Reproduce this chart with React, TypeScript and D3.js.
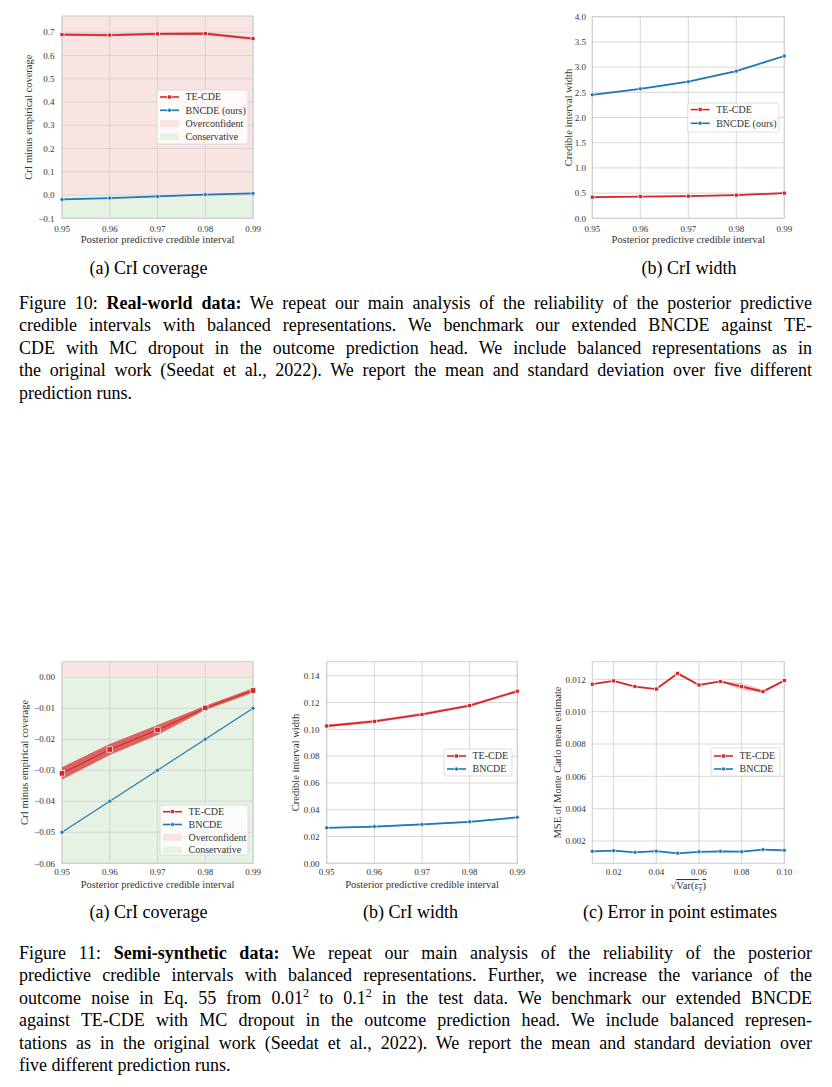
import React, { useLayoutEffect, useRef } from 'react';
import * as d3 from 'd3';

// ---------------- data ----------------
const ciLevels = [0.95, 0.96, 0.97, 0.98, 0.99];
const ciTicks = [0.95, 0.96, 0.97, 0.98, 0.99];

// Figure 10 (real-world data)
const f10CovTe = [0.690, 0.688, 0.693, 0.694, 0.673];
const f10CovTeSd = [0.006, 0.006, 0.006, 0.007, 0.006];
const f10CovBn = [-0.019, -0.013, -0.006, 0.002, 0.007];
const f10CovBnSd = [0.001, 0.001, 0.001, 0.001, 0.001];
const f10CovTicks = [-0.1, 0, 0.1, 0.2, 0.3, 0.4, 0.5, 0.6, 0.7];

const f10WidTe = [0.42, 0.43, 0.44, 0.46, 0.50];
const f10WidTeSd = [0.012, 0.012, 0.012, 0.012, 0.012];
const f10WidBn = [2.45, 2.57, 2.71, 2.92, 3.22];
const f10WidBnSd = [0.012, 0.012, 0.012, 0.012, 0.012];
const f10WidTicks = [0, 0.5, 1.0, 1.5, 2.0, 2.5, 3.0, 3.5, 4.0];

// Figure 11 (semi-synthetic data)
const f11CovTe = [-0.031, -0.0233, -0.017, -0.0099, -0.0043];
const f11CovTeSd = [0.002, 0.0018, 0.0016, 0.0007, 0.0007];
const f11CovBn = [-0.05, -0.04, -0.03, -0.02, -0.01];
const f11CovBnSd = [0, 0, 0, 0, 0];
const f11CovTicks = [-0.06, -0.05, -0.04, -0.03, -0.02, -0.01, 0.0];

const f11WidTe = [0.1025, 0.106, 0.1112, 0.1177, 0.1285];
const f11WidTeSd = [0.0011, 0.0011, 0.0011, 0.0011, 0.0011];
const f11WidBn = [0.0265, 0.0274, 0.029, 0.031, 0.0343];
const f11WidBnSd = [0.0006, 0.0006, 0.0006, 0.0006, 0.0006];
const f11WidTicks = [0, 0.02, 0.04, 0.06, 0.08, 0.1, 0.12, 0.14];

const noiseLevels = [0.01, 0.02, 0.03, 0.04, 0.05, 0.06, 0.07, 0.08, 0.09, 0.10];
const noiseTicks = [0.02, 0.04, 0.06, 0.08, 0.10];
const mseTe = [0.01170, 0.01190, 0.01155, 0.01140, 0.01237, 0.01165, 0.01187, 0.01155, 0.01125, 0.01192];
const mseTeSd = [0.00004, 0.00003, 0.00003, 0.00003, 0.00008, 0.00003, 0.00004, 0.00020, 0.00010, 0.00004];
const mseBn = [0.00136, 0.00140, 0.00130, 0.00137, 0.00124, 0.00133, 0.00136, 0.00134, 0.00147, 0.00142];
const mseBnSd = [0.00002, 0.00002, 0.00002, 0.00002, 0.00002, 0.00002, 0.00004, 0.00004, 0.00003, 0.00002];
const mseTicks = [0.002, 0.004, 0.006, 0.008, 0.010, 0.012];

const nameTe = 'TE-CDE';
const nameBnOurs = 'BNCDE (ours)';
const nameBn = 'BNCDE';
const nameOver = 'Overconfident';
const nameCons = 'Conservative';

// ---------------- style ----------------
const RED = '#d62728';
const BLUE = '#1f77b4';
const PINK = '#f9e4e4';
const GREEN = '#e6f2e3';
const GRID = '#d2d2d2';
const SPINE = '#cccccc';
const TXT = '#333333';
const SERIF = '"Liberation Serif", "Times New Roman", serif';

const fmtMinus = (f: (n: number) => string) => (v: number) => f(v).replace('-', '\u2212');

type Series = {
  color: string;
  marker: 'square' | 'circle';
  xs: number[];
  values: number[];
  sd: number[];
  bandOpacity: number;
  lw: number;
  msize: number;
};

type LegendItem = { label: string; kind: 'square' | 'circle' | 'patch'; color: string };

type PanelProps = {
  left: number; top: number; right: number; bottom: number;
  xDomain: [number, number]; yDomain: [number, number];
  xTicks: number[]; yTicks: number[];
  xFmt: (n: number) => string; yFmt: (n: number) => string;
  series: Series[];
  regions?: boolean;
  yLabel: string; yLabelX: number; yTickRight: number;
  xLabel: React.ReactNode; xTickY: number; xLabelY: number;
  legend: { x: number; y: number; w: number; h: number; rows: number[]; items: LegendItem[] };
};

function Marker({ kind, x, y, color, size }: { kind: 'square' | 'circle'; x: number; y: number; color: string; size: number }) {
  if (kind === 'square')
    return <rect x={x - size / 2} y={y - size / 2} width={size} height={size} fill={color} stroke="#fff" strokeWidth={0.7} />;
  return <circle cx={x} cy={y} r={size / 2} fill={color} stroke="#fff" strokeWidth={0.6} />;
}

function Panel(p: PanelProps) {
  const x = d3.scaleLinear().domain(p.xDomain).range([p.left, p.right]);
  const y = d3.scaleLinear().domain(p.yDomain).range([p.bottom, p.top]);
  const line = d3.line<[number, number]>().x(d => x(d[0])).y(d => y(d[1]));
  const area = d3.area<[number, number, number]>().x(d => x(d[0])).y0(d => y(d[1])).y1(d => y(d[2]));
  const lg = p.legend;
  return (
    <g>
      {p.regions && (
        <g>
          <rect x={p.left} y={p.top} width={p.right - p.left} height={y(0) - p.top} fill={PINK} />
          <rect x={p.left} y={y(0)} width={p.right - p.left} height={p.bottom - y(0)} fill={GREEN} />
        </g>
      )}
      {p.xTicks.map(t => (
        <line key={'gx' + t} x1={x(t)} x2={x(t)} y1={p.top} y2={p.bottom} stroke={GRID} strokeWidth={0.9} />
      ))}
      {p.yTicks.map(t => (
        <line key={'gy' + t} x1={p.left} x2={p.right} y1={y(t)} y2={y(t)} stroke={GRID} strokeWidth={0.9} />
      ))}
      <rect x={p.left} y={p.top} width={p.right - p.left} height={p.bottom - p.top} fill="none" stroke={SPINE} strokeWidth={1} />
      {p.series.map((s, i) => {
        const band = s.xs.map((xv, j) => [xv, s.values[j] - s.sd[j], s.values[j] + s.sd[j]] as [number, number, number]);
        const pts = s.xs.map((xv, j) => [xv, s.values[j]] as [number, number]);
        return (
          <g key={i}>
            <path d={area(band) || ''} fill={s.color} fillOpacity={s.bandOpacity} stroke="none" />
            <path d={line(pts) || ''} fill="none" stroke={s.color} strokeWidth={s.lw} />
            {pts.map((d, j) => (
              <Marker key={j} kind={s.marker} x={x(d[0])} y={y(d[1])} color={s.color} size={s.msize} />
            ))}
          </g>
        );
      })}
      {p.yTicks.map(t => (
        <text key={'ly' + t} x={p.yTickRight} y={y(t) + 3.2} textAnchor="end" fontFamily={SERIF} fontSize={9} fill={TXT}>
          {p.yFmt(t)}
        </text>
      ))}
      {p.xTicks.map(t => (
        <text key={'lx' + t} x={x(t)} y={p.xTickY} textAnchor="middle" fontFamily={SERIF} fontSize={9} fill={TXT}>
          {p.xFmt(t)}
        </text>
      ))}
      <text x={(p.left + p.right) / 2} y={p.xLabelY} textAnchor="middle" fontFamily={SERIF} fontSize={10.5} fill={TXT}>
        {p.xLabel}
      </text>
      <text
        transform={`translate(${p.yLabelX},${(p.top + p.bottom) / 2}) rotate(-90)`}
        textAnchor="middle" dominantBaseline="central" fontFamily={SERIF} fontSize={10.5} fill={TXT}
      >
        {p.yLabel}
      </text>
      <g>
        <rect x={lg.x} y={lg.y} width={lg.w} height={lg.h} rx={2} fill="#fff" fillOpacity={0.8} stroke="#d6d6d6" strokeWidth={0.8} />
        {lg.items.map((it, i) => {
          const cy = lg.rows[i];
          return (
            <g key={i}>
              {it.kind === 'patch' ? (
                <rect x={lg.x + 3} y={cy - 3.5} width={19} height={7} fill={it.color} />
              ) : (
                <g>
                  <line x1={lg.x + 3} x2={lg.x + 22} y1={cy} y2={cy} stroke={it.color} strokeWidth={1.6} />
                  <Marker kind={it.kind} x={lg.x + 12.5} y={cy} color={it.color} size={4} />
                </g>
              )}
              <text x={lg.x + 28.5} y={cy + 3.3} fontFamily={SERIF} fontSize={10} fill={TXT}>{it.label}</text>
            </g>
          );
        })}
      </g>
    </g>
  );
}

function JLine({ x, y, width, justify = true, children }: { x: number; y: number; width: number; justify?: boolean; children: React.ReactNode }) {
  const ref = useRef<SVGTextElement>(null);
  useLayoutEffect(() => {
    const el = ref.current;
    if (!el || !justify) return;
    el.style.wordSpacing = '0px';
    const natural = el.getComputedTextLength();
    const spaces = ((el.textContent || '').match(/ /g) || []).length;
    if (spaces > 0) el.style.wordSpacing = `${(width - natural) / spaces}px`;
  });
  return (
    <text ref={ref} x={x} y={y} fontFamily={SERIF} fontSize={18} fill="#000" style={{ whiteSpace: 'pre' }}>
      {children}
    </text>
  );
}

const mk = (xs: number[], values: number[], sd: number[], color: string, marker: 'square' | 'circle', bandOpacity = 0.3, lw = 1.8, msize = 4): Series =>
  ({ xs, values, sd, color, marker, bandOpacity, lw, msize });

export default function App() {
  const f1 = fmtMinus(d3.format('.1f'));
  const f2 = fmtMinus(d3.format('.2f'));
  const f3 = fmtMinus(d3.format('.3f'));
  const legendFull = (bn: string): LegendItem[] => [
    { label: nameTe, kind: 'square', color: RED },
    { label: bn, kind: 'circle', color: BLUE },
    { label: nameOver, kind: 'patch', color: PINK },
    { label: nameCons, kind: 'patch', color: GREEN },
  ];
  const legendTwo = (bn: string): LegendItem[] => [
    { label: nameTe, kind: 'square', color: RED },
    { label: bn, kind: 'circle', color: BLUE },
  ];
  const LX = 19, LW = 793;
  return (
    <svg width={832} height={1087} style={{ display: 'block', position: 'absolute', left: 0, top: 0 }}>
      <rect width={832} height={1087} fill="#fff" />
      {/* Figure 10 (a) */}
      <Panel
        left={62} top={16} right={253} bottom={218.3}
        xDomain={[0.95, 0.99]} yDomain={[-0.1, 0.77]}
        xTicks={ciTicks} yTicks={f10CovTicks} xFmt={f2} yFmt={f1}
        series={[mk(ciLevels, f10CovTe, f10CovTeSd, RED, 'square'), mk(ciLevels, f10CovBn, f10CovBnSd, BLUE, 'circle')]}
        regions
        yLabel="CrI minus empirical coverage" yLabelX={28} yTickRight={54.5}
        xLabel="Posterior predictive credible interval" xTickY={231.5} xLabelY={242.5}
        legend={{ x: 157, y: 90, w: 91, h: 54, rows: [97, 110.3, 123.6, 137], items: legendFull(nameBnOurs) }}
      />
      {/* Figure 10 (b) */}
      <Panel
        left={592.3} top={16.7} right={784.3} bottom={218.3}
        xDomain={[0.95, 0.99]} yDomain={[0, 4.0]}
        xTicks={ciTicks} yTicks={f10WidTicks} xFmt={f2} yFmt={f1}
        series={[mk(ciLevels, f10WidTe, f10WidTeSd, RED, 'square'), mk(ciLevels, f10WidBn, f10WidBnSd, BLUE, 'circle')]}
        yLabel="Credible interval width" yLabelX={568} yTickRight={586}
        xLabel="Posterior predictive credible interval" xTickY={231.5} xLabelY={242.5}
        legend={{ x: 687.7, y: 103, w: 91.3, h: 29, rows: [109.6, 123.3], items: legendTwo(nameBnOurs) }}
      />
      {/* Figure 11 (a) */}
      <Panel
        left={62} top={661.7} right={253} bottom={863.3}
        xDomain={[0.95, 0.99]} yDomain={[-0.06, 0.005]}
        xTicks={ciTicks} yTicks={f11CovTicks} xFmt={f2} yFmt={f2}
        series={[mk(ciLevels, f11CovTe, f11CovTeSd, RED, 'square', 0.7, 1.1, 5.5), mk(ciLevels, f11CovBn, f11CovBnSd, BLUE, 'circle', 0.25, 1.1, 4)]}
        regions
        yLabel="CrI minus empirical coverage" yLabelX={24} yTickRight={55}
        xLabel="Posterior predictive credible interval" xTickY={875} xLabelY={888}
        legend={{ x: 160, y: 805, w: 88, h: 50, rows: [811.7, 824.5, 837.3, 850], items: legendFull(nameBn) }}
      />
      {/* Figure 11 (b) */}
      <Panel
        left={326.7} top={661.7} right={517.3} bottom={863.3}
        xDomain={[0.95, 0.99]} yDomain={[0, 0.1505]}
        xTicks={ciTicks} yTicks={f11WidTicks} xFmt={f2} yFmt={f2}
        series={[mk(ciLevels, f11WidTe, f11WidTeSd, RED, 'square'), mk(ciLevels, f11WidBn, f11WidBnSd, BLUE, 'circle')]}
        yLabel="Credible interval width" yLabelX={295} yTickRight={319.5}
        xLabel="Posterior predictive credible interval" xTickY={875} xLabelY={888}
        legend={{ x: 444, y: 749, w: 68, h: 27, rows: [756, 769], items: legendTwo(nameBn) }}
      />
      {/* Figure 11 (c) */}
      <Panel
        left={592.3} top={661.7} right={784.3} bottom={863.3}
        xDomain={[0.01, 0.10]} yDomain={[0.00062, 0.01309]}
        xTicks={noiseTicks} yTicks={mseTicks} xFmt={f2} yFmt={f3}
        series={[mk(noiseLevels, mseTe, mseTeSd, RED, 'square'), mk(noiseLevels, mseBn, mseBnSd, BLUE, 'circle')]}
        yLabel="MSE of Monte Carlo mean estimate" yLabelX={557} yTickRight={585.7}
        xLabel={
          <>
            <tspan>√</tspan>
            <tspan style={{ textDecoration: 'overline' }}>Var(ε<tspan dy={2} fontSize={7.5}>y</tspan><tspan dy={-2}>)</tspan></tspan>
          </>
        }
        xTickY={875} xLabelY={889}
        legend={{ x: 711, y: 748, w: 69, h: 28, rows: [756, 769], items: legendTwo(nameBn) }}
      />

      {/* sub-captions */}
      <text x={148.5} y={273.5} textAnchor="middle" fontFamily={SERIF} fontSize={18}>(a) CrI coverage</text>
      <text x={689} y={273.5} textAnchor="middle" fontFamily={SERIF} fontSize={18}>(b) CrI width</text>
      <text x={148.5} y={917.5} textAnchor="middle" fontFamily={SERIF} fontSize={18}>(a) CrI coverage</text>
      <text x={410.5} y={917.5} textAnchor="middle" fontFamily={SERIF} fontSize={18}>(b) CrI width</text>
      <text x={680} y={917.5} textAnchor="middle" fontFamily={SERIF} fontSize={18}>(c) Error in point estimates</text>

      {/* Figure 10 caption */}
      <JLine x={LX} y={308.5} width={LW}>Figure 10: <tspan fontWeight="bold">Real-world data:</tspan> We repeat our main analysis of the reliability of the posterior predictive</JLine>
      <JLine x={LX} y={331} width={LW}>credible intervals with balanced representations. We benchmark our extended BNCDE against TE-</JLine>
      <JLine x={LX} y={353.5} width={LW}>CDE with MC dropout in the outcome prediction head. We include balanced representations as in</JLine>
      <JLine x={LX} y={376} width={LW}>the original work (Seedat et al., 2022). We report the mean and standard deviation over five different</JLine>
      <JLine x={LX} y={398.5} width={LW} justify={false}>prediction runs.</JLine>

      {/* Figure 11 caption */}
      <JLine x={LX} y={958.5} width={LW}>Figure 11: <tspan fontWeight="bold">Semi-synthetic data:</tspan> We repeat our main analysis of the reliability of the posterior</JLine>
      <JLine x={LX} y={981} width={LW}>predictive credible intervals with balanced representations. Further, we increase the variance of the</JLine>
      <JLine x={LX} y={1003.5} width={LW}>outcome noise in Eq. 55 from 0.01<tspan dy={-7} fontSize={12}>2</tspan><tspan dy={7}> to 0.1</tspan><tspan dy={-7} fontSize={12}>2</tspan><tspan dy={7}> in the test data. We benchmark our extended BNCDE</tspan></JLine>
      <JLine x={LX} y={1026} width={LW}>against TE-CDE with MC dropout in the outcome prediction head. We include balanced represen-</JLine>
      <JLine x={LX} y={1048.5} width={LW}>tations as in the original work (Seedat et al., 2022). We report the mean and standard deviation over</JLine>
      <JLine x={LX} y={1071} width={LW} justify={false}>five different prediction runs.</JLine>
    </svg>
  );
}
